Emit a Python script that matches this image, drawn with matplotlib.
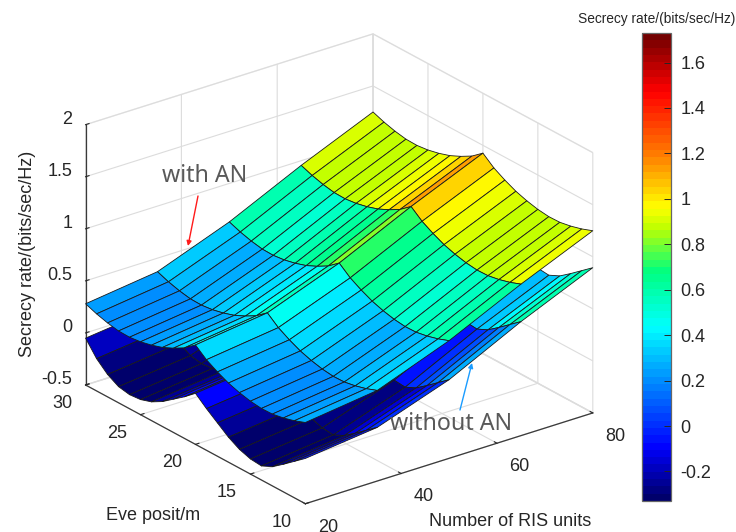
import numpy as np
import matplotlib
matplotlib.use('Agg')
import matplotlib.pyplot as plt
from matplotlib.colors import LinearSegmentedColormap, Normalize
from matplotlib.cm import ScalarMappable

plt.rcParams['font.family'] = ['Liberation Sans', 'DejaVu Sans']

ris_units = [20, 35, 50, 65, 80]
eve_posit = list(range(10, 31))

# with AN, one list per RIS size, y = 10..30
with_an_20 = [.28, .24, .21, .19, .187, .20, .225, .26, .31, .37, .455, .37, .31, .26, .225, .20, .187, .19, .21, .24, .28]
with_an_35 = [.37, .33, .30, .28, .277, .29, .315, .35, .40, .46, .545, .46, .40, .35, .315, .29, .277, .28, .30, .33, .37]
with_an_50 = [.63, .59, .56, .54, .537, .55, .575, .61, .66, .72, .805, .72, .66, .61, .575, .55, .537, .54, .56, .59, .63]
with_an_65 = [.955, .915, .885, .865, .862, .875, .90, .935, .985, 1.045, 1.13, 1.045, .985, .935, .90, .875, .862, .865, .885, .915, .955]
with_an_80 = [1.25, 1.21, 1.18, 1.16, 1.157, 1.17, 1.195, 1.23, 1.28, 1.34, 1.425, 1.34, 1.28, 1.23, 1.195, 1.17, 1.157, 1.16, 1.18, 1.21, 1.25]

# without AN
no_an_20 = [-.065, -.15, -.235, -.315, -.365, -.355, -.32, -.26, -.18, -.10, -.01, -.10, -.18, -.26, -.32, -.355, -.365, -.345, -.285, -.19, -.05]
no_an_35 = [.015, -.07, -.155, -.235, -.285, -.275, -.24, -.18, -.10, -.02, .07, -.02, -.10, -.18, -.24, -.275, -.285, -.265, -.205, -.11, .03]
no_an_50 = [.255, .17, .085, .005, -.045, -.035, 0, .06, .14, .22, .31, .22, .14, .06, 0, -.035, -.045, -.025, .035, .13, .27]
no_an_65 = [.595, .51, .425, .345, .295, .305, .34, .40, .48, .56, .65, .56, .48, .40, .34, .305, .295, .315, .375, .47, .61]
no_an_80 = [.895, .81, .725, .645, .595, .605, .64, .70, .78, .86, .95, .86, .78, .70, .64, .605, .595, .615, .675, .77, .91]

cmap = LinearSegmentedColormap.from_list('rate', [
    (0.0, (0, 0, .42)), (.11, (0, 0, 1)), (.37, (0, 1, 1)), (.49, (0, 1, .5)),
    (.585, (.75, 1, 0)), (.63, (1, 1, 0)), (.74, (1, .5, 0)), (.88, (1, 0, 0)),
    (1.0, (.45, 0, 0))], N=64)
norm = Normalize(-.33, 1.73)

fig = plt.figure(figsize=(7.36, 5.32), dpi=100)
side = 569
ax = fig.add_axes([(331.5 - side / 2) / 736, (532 - 276.5 - side / 2) / 532, side / 736, side / 532],
                  projection='3d')
ax.set_proj_type('ortho')
ax.view_init(elev=24.4, azim=-127.4)
ax.set_box_aspect((1, 1, .79), zoom=1.0)

X, Y = np.meshgrid(ris_units, eve_posit)
Z1 = np.array([with_an_20, with_an_35, with_an_50, with_an_65, with_an_80]).T
Z2 = np.array([no_an_20, no_an_35, no_an_50, no_an_65, no_an_80]).T

ax.computed_zorder = False
ax.plot_surface(X, Y, Z2, facecolors=cmap(norm(Z2)), shade=False, rstride=1, cstride=1,
                edgecolor='#1a1a1a', linewidth=.6, zorder=1)
ax.plot_surface(X, Y, Z1, facecolors=cmap(norm(Z1)), shade=False, rstride=1, cstride=1,
                edgecolor='#1a1a1a', linewidth=.6, zorder=2)

ax.set_xlim(20, 80, view_margin=0)
ax.set_ylim(10, 30, view_margin=0)
ax.set_zlim(-.5, 2, view_margin=0)
ax.set_xticks([20, 40, 60, 80])
ax.set_yticks([10, 15, 20, 25, 30])
ax.set_zticks([-.5, 0, .5, 1, 1.5, 2])
ax.set_zticklabels(['-0.5', '0', '0.5', '1', '1.5', '2'])
ax.tick_params(labelsize=13, colors='#262626', pad=2)
ax.tick_params(axis='x', pad=4)
ax.tick_params(axis='z', pad=-2.5)
plt.setp(ax.get_xticklabels(), ha='left', va='center_baseline')
plt.setp(ax.get_yticklabels(), ha='right', va='center_baseline')
plt.setp(ax.get_zticklabels(), ha='right', va='baseline')

for axis in (ax.xaxis, ax.yaxis, ax.zaxis):
    axis.pane.set_facecolor((1, 1, 1, 0))
    axis.pane.set_edgecolor('#d9d9d9')
    axis._axinfo['grid']['color'] = '#dcdcdc'
    axis._axinfo['grid']['linewidth'] = .8
    axis._axinfo['axisline']['color'] = '#3a3a3a'
    axis._axinfo['tick']['inward_factor'] = 0
    axis._axinfo['tick']['outward_factor'] = .15
    axis.line.set_linewidth(.9)
    axis.line.set_color('#3a3a3a')

fig.text(27 / 736, 1 - 254 / 532, 'Secrecy rate/(bits/sec/Hz)', rotation=90, fontsize=13,
         ha='center', va='center', color='#262626')
fig.text(153 / 736, 1 - 516 / 532, 'Eve posit/m', fontsize=13, ha='center', va='center', color='#262626')
fig.text(510 / 736, 1 - 522 / 532, 'Number of RIS units', fontsize=13, ha='center', va='center', color='#262626')
fig.text(205 / 736, 1 - 176 / 532, 'with AN', fontsize=16.7, ha='center', va='center', color='#595959',
         family=['Noto Sans', 'DejaVu Sans'])
fig.text(451 / 736, 1 - 424 / 532, 'without AN', fontsize=16.7, ha='center', va='center', color='#595959',
         family=['Noto Sans', 'DejaVu Sans'])
fig.text(657 / 736, 1 - 19 / 532, 'Secrecy rate/(bits/sec/Hz)', fontsize=9.9, ha='center', va='center', color='#262626')

ax.annotate('', xy=(188, 532 - 246), xytext=(198, 532 - 196), xycoords='figure pixels', textcoords='figure pixels',
            arrowprops=dict(arrowstyle='-|>', color='#ff1a1a', lw=1, mutation_scale=7, shrinkA=0, shrinkB=0))
ax.annotate('', xy=(472, 532 - 363), xytext=(460, 532 - 410), xycoords='figure pixels', textcoords='figure pixels',
            arrowprops=dict(arrowstyle='-|>', color='#1a9cff', lw=1, mutation_scale=7, shrinkA=0, shrinkB=0))

cax = fig.add_axes([642 / 736, 1 - 501 / 532, 29 / 736, 468 / 532])
cb = fig.colorbar(ScalarMappable(norm=norm, cmap=cmap), cax=cax)
cb.set_ticks([-.2, 0, .2, .4, .6, .8, 1, 1.2, 1.4, 1.6])
cb.set_ticklabels(['-0.2', '0', '0.2', '0.4', '0.6', '0.8', '1', '1.2', '1.4', '1.6'])
cax.tick_params(direction='in', length=5, width=.7, labelsize=13, colors='#262626', pad=7)
cb.outline.set_edgecolor('#666666')
cb.outline.set_linewidth(.9)

fig.savefig('out.png', dpi=100)
